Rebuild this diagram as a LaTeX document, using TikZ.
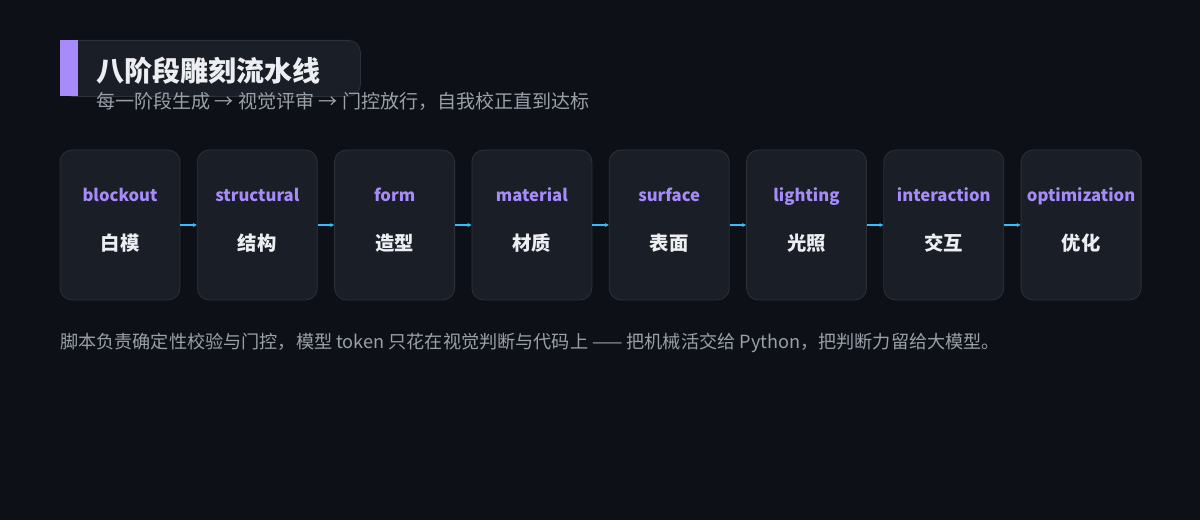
\documentclass[tikz,border=0pt]{standalone}
\usepackage{fontspec}
\setmainfont{Noto Sans CJK SC}
\definecolor{bg}{HTML}{0D1017}
\definecolor{boxf}{HTML}{1A1E26}
\definecolor{boxb}{HTML}{2C313A}
\definecolor{pur}{HTML}{A78BFA}
\definecolor{cy}{HTML}{38BDF8}
\definecolor{tw}{HTML}{ECEEF1}
\definecolor{tg}{HTML}{9AA0A8}
\usetikzlibrary{arrows.meta}
\tikzset{
 stage/.style={draw=boxb,fill=boxf,rounded corners=9pt,minimum width=90pt,minimum height=112.5pt,line width=0.6pt},
 en/.style={text=pur,font=\fontsize{12.5}{14}\selectfont\bfseries,anchor=base},
 zh/.style={text=tw,font=\fontsize{14.5}{16}\selectfont\bfseries,anchor=base},
 arr/.style={draw=cy,line width=1pt,-{Stealth[length=3pt,width=3pt]}},
}
\begin{document}
\begin{tikzpicture}[x=0.75pt,y=-0.75pt]
\fill[bg] (0,0) rectangle (1200,520);
\useasboundingbox (0,0) rectangle (1200,520);
\node[draw=boxb,fill=boxf,rounded corners=9pt,minimum width=225pt,minimum height=42pt,anchor=north west,line width=0.6pt] (tbox) at (60,40) {};
\fill[pur] (60,40) rectangle (78,96);
\node[anchor=west,text=tw,font=\fontsize{21}{24}\selectfont\bfseries,inner sep=0] (title) at (96,71) {八阶段雕刻流水线};
\node[anchor=west,text=tg,font=\fontsize{14.3}{16}\selectfont,inner sep=0] (sub) at (96,101) {每一阶段生成 → 视觉评审 → 门控放行，自我校正直到达标};
\foreach \i/\e/\z in {0/blockout/白模,1/structural/结构,2/form/造型,3/material/材质,4/surface/表面,5/lighting/光照,6/interaction/交互,7/optimization/优化}{
 \node[stage] (s\i) at (120+137.3*\i,225) {};
 \node[en] (e\i) at (120+137.3*\i,201.5) {\e};
 \node[zh] (z\i) at (120+137.3*\i,251) {\z};
}
\foreach \i [evaluate=\i as \j using int(\i+1)] in {0,...,6}{
 \draw[arr] (s\i.east) -- (s\j.west);
}
\node[anchor=west,text=tg,font=\fontsize{13.6}{15}\selectfont,inner sep=0] (foot) at (60,343) {脚本负责确定性校验与门控，模型 token 只花在视觉判断与代码上 —— 把机械活交给 Python，把判断力留给大模型。};
\end{tikzpicture}
\end{document}
